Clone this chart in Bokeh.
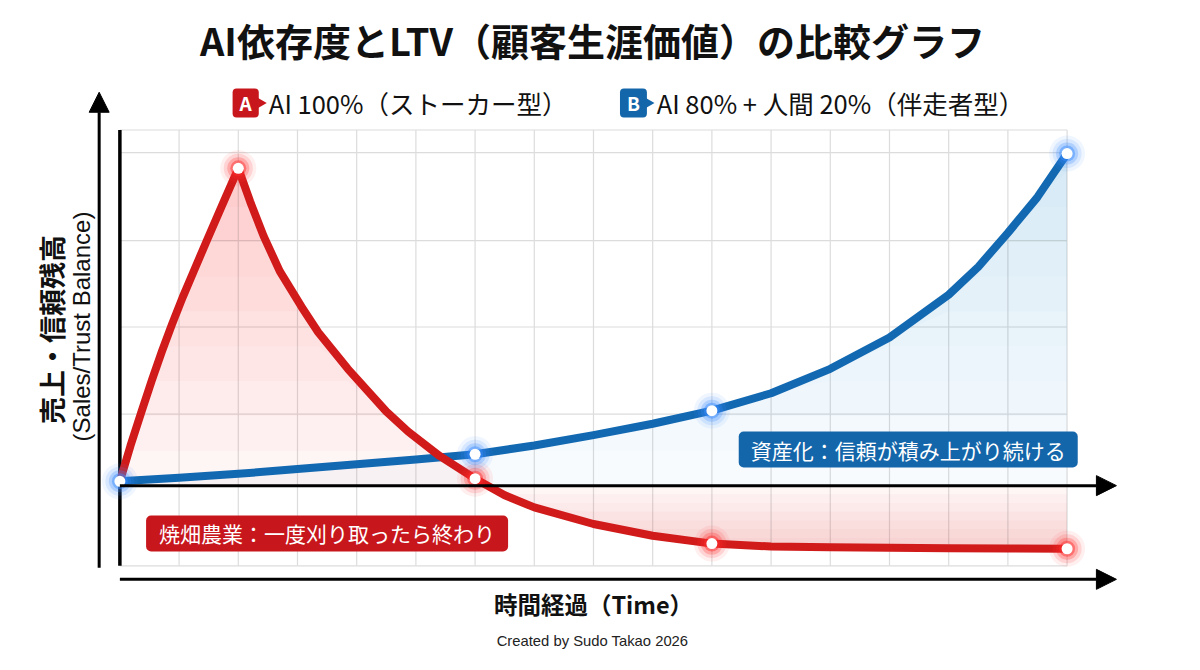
import numpy as np
from bokeh.plotting import figure
from bokeh.models import Range1d, Arrow, NormalHead
from bokeh.core.properties import value
from bokeh.embed import file_html
from bokeh.resources import INLINE

# ---------------- data ----------------
title_text = "AI依存度とLTV（顧客生涯価値）の比較グラフ"
legend_a_badge = "A"
legend_b_badge = "B"
legend_a = "AI 100%（ストーカー型）"
legend_b = "AI 80% + 人間 20%（伴走者型）"
label_a = "焼畑農業：一度刈り取ったら終わり"
label_b = "資産化：信頼が積み上がり続ける"
y_label_1 = "売上・信頼残高"
y_label_2 = "(Sales/Trust Balance)"
x_label = "時間経過（Time）"
credit = "Created by Sudo Takao 2026"

time_grid = list(range(0, 17))
value_grid = [8.2, 18.2, 28.1, 38.2]
frame_top = 40.8
frame_bottom = -9.2

# A: AI 100% (stalker type) curve
red_t = [0, 0.18, 0.37, 0.54, 0.71, 0.88, 1.06, 1.26, 1.48, 1.73, 2.0,
         2.2, 2.43, 2.7, 3.07, 3.35, 3.85, 4.5, 4.87, 5.4, 6.0,
         6.5, 7.0, 8.0, 9.0, 10.0, 11.0, 12.0, 13.0, 14.0, 15.0, 16.0]
red_v = [0.5, 4.6, 8.6, 12.1, 15.4, 18.5, 21.6, 24.8, 28.3, 32.2, 36.4,
         32.6, 28.6, 24.6, 20.5, 17.6, 13.4, 8.5, 6.2, 3.4, 0.8,
         -1.1, -2.5, -4.4, -5.75, -6.65, -6.98, -7.06, -7.12, -7.17, -7.21, -7.24]
red_pt_t = [0, 2, 6, 10, 16]
red_pt_v = [0.5, 36.4, 0.8, -6.65, -7.24]

# B: AI 80% + human 20% (companion type) curve
blue_t = [0, 1, 2, 3, 4, 5, 6, 7, 8, 9, 10, 11, 12, 13, 14, 14.5, 15, 15.5, 16]
blue_v = [0.5, 0.9, 1.35, 1.9, 2.45, 3.0, 3.6, 4.6, 5.8, 7.1, 8.6, 10.6, 13.4,
          17.0, 21.9, 25.1, 29.0, 33.1, 38.1]
blue_pt_t = [0, 6, 10, 16]
blue_pt_v = [0.5, 3.6, 8.6, 38.1]

# ---------------- styling ----------------
RED = "#d11a1a"
BLUE = "#1269b2"
RED_BOX = "#c8161d"
BLUE_BOX = "#1466aa"
CJK = value("Noto Sans CJK JP")
LAT = value("Liberation Sans")

W, H = 1184, 654

# reference-pixel -> data helpers, used only to place annotations
def px_x(X):
    return (X - 121) / 60.0

def px_y(Y):
    return (497 - Y) / 8.93

p = figure(width=W, height=H, output_backend="svg", toolbar_location=None,
           x_range=Range1d(px_x(0), px_x(1200)),
           y_range=Range1d(px_y(670), px_y(0)),
           x_axis_location=None, y_axis_location=None, min_border=0)
p.grid.visible = False
p.outline_line_color = None
p.background_fill_color = "white"
p.border_fill_color = "white"

# grid
n = len(time_grid)
p.segment(x0=time_grid, y0=[frame_bottom] * n, x1=time_grid, y1=[frame_top] * n,
          line_color="#dcdcdc", line_width=1.2)
hy = [frame_bottom] + value_grid + [frame_top]
p.segment(x0=[0] * len(hy), y0=hy, x1=[time_grid[-1]] * len(hy), y1=hy,
          line_color="#dcdcdc", line_width=1.2)

# fills: stacked horizontal bands imitate a vertical gradient
rv = np.array(red_v)
bv = np.array(blue_v)
p.varea(x=blue_t, y1=0, y2=bv, fill_color="#4b9be0", fill_alpha=0.04)
for L in range(4, 40, 4):
    p.varea(x=blue_t, y1=np.minimum(bv, L), y2=bv, fill_color="#4b9be0", fill_alpha=0.022)
p.varea(x=red_t, y1=0, y2=rv, fill_color="#ee3b3b", fill_alpha=0.05)
for L in range(4, 36, 4):
    p.varea(x=red_t, y1=np.minimum(rv, L), y2=rv, fill_color="#ee3b3b", fill_alpha=0.025)
for L in range(-1, -8, -1):
    p.varea(x=red_t, y1=rv, y2=np.maximum(rv, L), fill_color="#ee3b3b", fill_alpha=0.03)

# axes drawn as arrows
head = dict(size=20, fill_color="black", line_color="black")
p.add_layout(Arrow(end=NormalHead(**head), x_start=px_x(100), y_start=px_y(581),
                   x_end=px_x(100), y_end=px_y(94), line_width=3, line_color="black"))
p.add_layout(Arrow(end=NormalHead(**head), x_start=0, y_start=0,
                   x_end=px_x(1131), y_end=0, line_width=3, line_color="black"))
p.add_layout(Arrow(end=NormalHead(**head), x_start=0, y_start=px_y(593),
                   x_end=px_x(1131), y_end=px_y(593), line_width=3, line_color="black"))
p.segment(x0=[0], y0=[frame_bottom], x1=[0], y1=[frame_top], line_color="black", line_width=3.5)

# lines
p.line(blue_t, blue_v, line_color=BLUE, line_width=8, line_join="round", line_cap="round")
p.line(red_t, red_v, line_color=RED, line_width=8, line_join="round", line_cap="round")

# glowing markers (the shared start point shows the blue marker on top)
for t, v, glow in [(red_pt_t[1:], red_pt_v[1:], "#ff2d2d"), (blue_pt_t, blue_pt_v, "#3a8cff")]:
    for s, a in [(36, 0.08), (29, 0.14), (22, 0.25), (16, 0.45)]:
        p.scatter(t, v, size=s, fill_color=glow, fill_alpha=a, line_color=None)
    p.scatter(t, v, size=11, fill_color="white", line_color=None)

# annotation boxes
p.text(x=[px_x(920)], y=[px_y(460)], text=[label_b], text_color="white",
       text_font=CJK, text_font_size="21px", text_align="center", text_baseline="middle",
       background_fill_color=BLUE_BOX, border_radius=5, padding=(12, 3))
p.text(x=[px_x(331)], y=[px_y(546)], text=[label_a], text_color="white",
       text_font=CJK, text_font_size="21px", text_align="center", text_baseline="middle",
       background_fill_color=RED_BOX, border_radius=5, padding=(13, 3))

# title
p.text(x=[px_x(600)], y=[px_y(40)], text=[title_text], text_color="#111111",
       text_font=CJK, text_font_style="bold", text_font_size="38px",
       text_align="center", text_baseline="middle")

# legend
p.scatter([px_x(264), px_x(657)], [px_y(105), px_y(105)], marker="triangle",
          angle=-np.pi / 2, size=10, fill_color=[RED_BOX, BLUE_BOX], line_color=None)
p.text(x=[px_x(248.5)], y=[px_y(105)], text=[legend_a_badge], text_color="white",
       text_font=CJK, text_font_style="bold", text_font_size="19px",
       text_align="center", text_baseline="middle",
       background_fill_color=RED_BOX, border_radius=4, padding=(7, 1))
p.text(x=[px_x(641.5)], y=[px_y(105)], text=[legend_b_badge], text_color="white",
       text_font=CJK, text_font_style="bold", text_font_size="19px",
       text_align="center", text_baseline="middle",
       background_fill_color=BLUE_BOX, border_radius=4, padding=(7, 1))
p.text(x=[px_x(272), px_x(665)], y=[px_y(105), px_y(105)], text=[legend_a, legend_b],
       text_color="#111111", text_font=CJK, text_font_size="25.5px",
       text_align="left", text_baseline="middle")

# axis titles
p.text(x=[px_x(52)], y=[px_y(337)], text=[y_label_1], angle=np.pi / 2,
       text_color="#111111", text_font=CJK, text_font_style="bold", text_font_size="27px",
       text_align="center", text_baseline="middle")
p.text(x=[px_x(82)], y=[px_y(334)], text=[y_label_2], angle=np.pi / 2,
       text_color="#111111", text_font=LAT, text_font_size="24px",
       text_align="center", text_baseline="middle")
p.text(x=[px_x(601)], y=[px_y(618)], text=[x_label], text_color="#111111",
       text_font=CJK, text_font_style="bold", text_font_size="23.5px",
       text_align="center", text_baseline="middle")
p.text(x=[px_x(600)], y=[px_y(656)], text=[credit], text_color="#222222",
       text_font=LAT, text_font_size="14.8px", text_align="center", text_baseline="middle")

open("out.html", "w").write(file_html(p, INLINE))
